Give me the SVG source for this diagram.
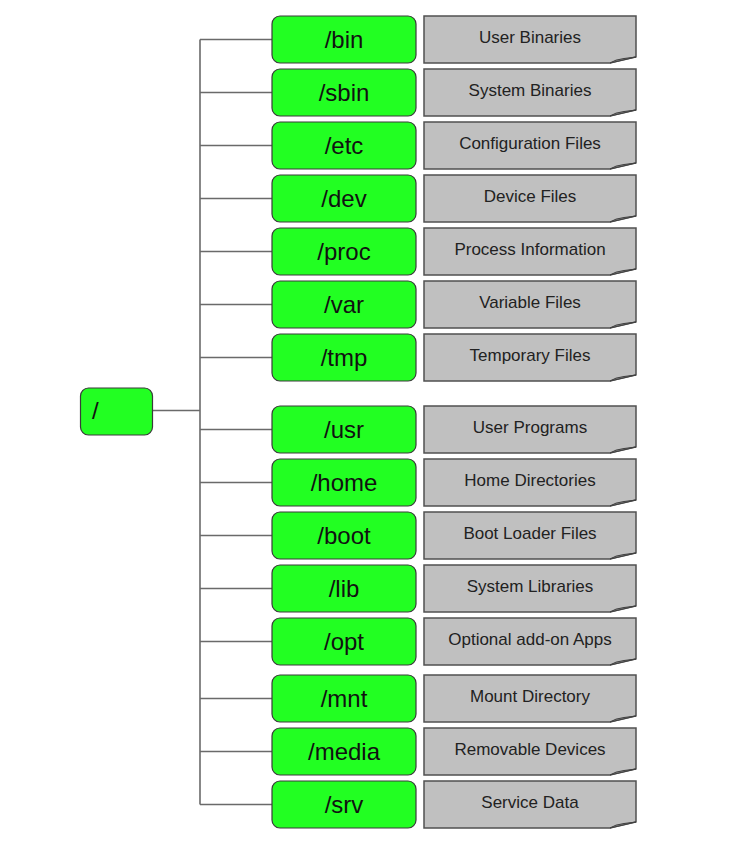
<svg xmlns="http://www.w3.org/2000/svg" width="751" height="854" viewBox="0 0 751 854">
  <style>
    .dir text { font-family: "Liberation Sans", Arial, sans-serif; font-size: 24px; fill: #111; text-anchor: middle; }
    .note text { font-family: "Liberation Sans", Arial, sans-serif; font-size: 17px; fill: #222; text-anchor: middle; }
    .wire { stroke: #6a6a6a; stroke-width: 1.6; fill: none; }
  </style>
  <defs>
    <!-- directory box, 144 x 47 -->
    <rect id="dirbox" x="0" y="0" width="144" height="47" rx="8" ry="8" fill="#22ff22" stroke="#3a3a3a" stroke-width="1.2"/>
    <!-- description note with folded bottom-right corner -->
    <g id="notebox">
      <path d="M0,0 H212 V41 L186,47 H0 Z" fill="#c0c0c0" stroke="#505050" stroke-width="1.5"/>
      <path d="M186,47 L212,41 L200,42.5 Q191,43.5 186,47 Z" fill="#8a8a8a" stroke="#404040" stroke-width="1"/>
    </g>
  </defs>

  <!-- connectors -->
  <g id="connectors">
    <line class="wire" x1="152" y1="410.5" x2="200" y2="410.5"/>
    <line class="wire" x1="200" y1="39.5" x2="200" y2="804.5"/>
    <line class="wire" x1="200" y1="39.5" x2="272" y2="39.5"/>
    <line class="wire" x1="200" y1="92.5" x2="272" y2="92.5"/>
    <line class="wire" x1="200" y1="145.5" x2="272" y2="145.5"/>
    <line class="wire" x1="200" y1="198.5" x2="272" y2="198.5"/>
    <line class="wire" x1="200" y1="251.5" x2="272" y2="251.5"/>
    <line class="wire" x1="200" y1="304.5" x2="272" y2="304.5"/>
    <line class="wire" x1="200" y1="357.5" x2="272" y2="357.5"/>
    <line class="wire" x1="200" y1="429.5" x2="272" y2="429.5"/>
    <line class="wire" x1="200" y1="482.5" x2="272" y2="482.5"/>
    <line class="wire" x1="200" y1="535.5" x2="272" y2="535.5"/>
    <line class="wire" x1="200" y1="588.5" x2="272" y2="588.5"/>
    <line class="wire" x1="200" y1="641.5" x2="272" y2="641.5"/>
    <line class="wire" x1="200" y1="698.5" x2="272" y2="698.5"/>
    <line class="wire" x1="200" y1="751.5" x2="272" y2="751.5"/>
    <line class="wire" x1="200" y1="804.5" x2="272" y2="804.5"/>
  </g>

  <!-- root -->
  <g id="root" class="dir">
    <rect x="80.5" y="388" width="72" height="47" rx="8" ry="8" fill="#22ff22" stroke="#3a3a3a" stroke-width="1.2"/>
    <text x="92" y="419" style="text-anchor:start">/</text>
  </g>

  <!-- directories -->
  <g id="bin" class="dir"><use href="#dirbox" x="272" y="16"/><text x="344" y="48">/bin</text></g>
  <g id="sbin" class="dir"><use href="#dirbox" x="272" y="69"/><text x="344" y="101">/sbin</text></g>
  <g id="etc" class="dir"><use href="#dirbox" x="272" y="122"/><text x="344" y="154">/etc</text></g>
  <g id="dev" class="dir"><use href="#dirbox" x="272" y="175"/><text x="344" y="207">/dev</text></g>
  <g id="proc" class="dir"><use href="#dirbox" x="272" y="228"/><text x="344" y="260">/proc</text></g>
  <g id="var" class="dir"><use href="#dirbox" x="272" y="281"/><text x="344" y="313">/var</text></g>
  <g id="tmp" class="dir"><use href="#dirbox" x="272" y="334"/><text x="344" y="366">/tmp</text></g>
  <g id="usr" class="dir"><use href="#dirbox" x="272" y="406"/><text x="344" y="438">/usr</text></g>
  <g id="home" class="dir"><use href="#dirbox" x="272" y="459"/><text x="344" y="491">/home</text></g>
  <g id="boot" class="dir"><use href="#dirbox" x="272" y="512"/><text x="344" y="544">/boot</text></g>
  <g id="lib" class="dir"><use href="#dirbox" x="272" y="565"/><text x="344" y="597">/lib</text></g>
  <g id="opt" class="dir"><use href="#dirbox" x="272" y="618"/><text x="344" y="650">/opt</text></g>
  <g id="mnt" class="dir"><use href="#dirbox" x="272" y="675"/><text x="344" y="707">/mnt</text></g>
  <g id="media" class="dir"><use href="#dirbox" x="272" y="728"/><text x="344" y="760">/media</text></g>
  <g id="srv" class="dir"><use href="#dirbox" x="272" y="781"/><text x="344" y="813">/srv</text></g>

  <!-- descriptions -->
  <g id="bin-note" class="note"><use href="#notebox" x="424" y="16"/><text x="530" y="43">User Binaries</text></g>
  <g id="sbin-note" class="note"><use href="#notebox" x="424" y="69"/><text x="530" y="96">System Binaries</text></g>
  <g id="etc-note" class="note"><use href="#notebox" x="424" y="122"/><text x="530" y="149">Configuration Files</text></g>
  <g id="dev-note" class="note"><use href="#notebox" x="424" y="175"/><text x="530" y="202">Device Files</text></g>
  <g id="proc-note" class="note"><use href="#notebox" x="424" y="228"/><text x="530" y="255">Process Information</text></g>
  <g id="var-note" class="note"><use href="#notebox" x="424" y="281"/><text x="530" y="308">Variable Files</text></g>
  <g id="tmp-note" class="note"><use href="#notebox" x="424" y="334"/><text x="530" y="361">Temporary Files</text></g>
  <g id="usr-note" class="note"><use href="#notebox" x="424" y="406"/><text x="530" y="433">User Programs</text></g>
  <g id="home-note" class="note"><use href="#notebox" x="424" y="459"/><text x="530" y="486">Home Directories</text></g>
  <g id="boot-note" class="note"><use href="#notebox" x="424" y="512"/><text x="530" y="539">Boot Loader Files</text></g>
  <g id="lib-note" class="note"><use href="#notebox" x="424" y="565"/><text x="530" y="592">System Libraries</text></g>
  <g id="opt-note" class="note"><use href="#notebox" x="424" y="618"/><text x="530" y="645">Optional add-on Apps</text></g>
  <g id="mnt-note" class="note"><use href="#notebox" x="424" y="675"/><text x="530" y="702">Mount Directory</text></g>
  <g id="media-note" class="note"><use href="#notebox" x="424" y="728"/><text x="530" y="755">Removable Devices</text></g>
  <g id="srv-note" class="note"><use href="#notebox" x="424" y="781"/><text x="530" y="808">Service Data</text></g>
</svg>
